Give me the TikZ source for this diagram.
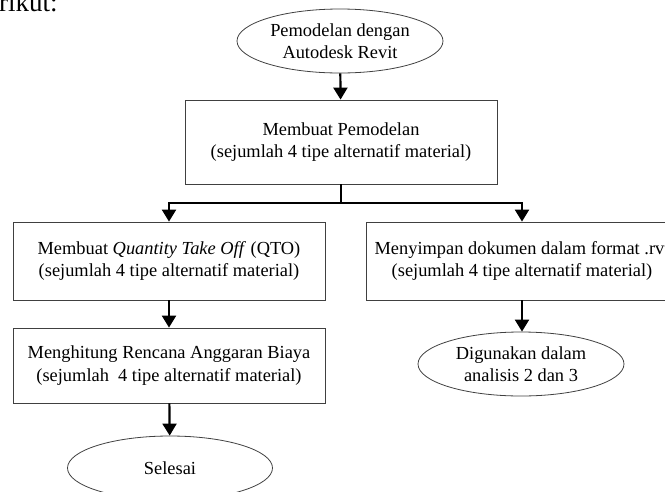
\documentclass[tikz,border=0pt]{standalone}
\usepackage{fontspec}
\setmainfont{Liberation Serif}
\usetikzlibrary{ shapes.geometric, % For the ellipse nodes
                 arrows.meta,
               }
\tikzstyle{flow} = [-{Triangle[width=14pt,length=12pt]}, line width=2.2pt]
\tikzstyle{terminal} = [ellipse, draw=black!75, line width=0.8pt, inner sep=0pt, minimum width=206pt, minimum height=64pt, align=center, font=\fontsize{18.4}{22.5}\selectfont]
\tikzstyle{process} = [rectangle, draw=black!75, line width=0.8pt, inner sep=0pt, minimum width=312pt, align=center, font=\fontsize{18.4}{22.5}\selectfont]

\begin{document}
\begin{tikzpicture}[x=1pt, y=-1pt]
  \useasboundingbox (0, 0) rectangle (665, 491);
  \clip (0, 0) rectangle (665, 491);
  \node (intro) [anchor=base west, inner sep=0pt, font=\fontsize{27}{30}\selectfont] at (-1, 11) {rikut:};

  \node (start) [terminal] at (340, 41) {Pemodelan dengan\\Autodesk Revit};
  \node (model) [process, minimum height=84pt] at (341, 142) {Membuat Pemodelan\\(sejumlah 4 tipe alternatif material)};
  \node (qto) [process, minimum height=78pt] at (169, 261) {Membuat \textit{Quantity Take Off} (QTO)\\(sejumlah 4 tipe alternatif material)};
  \node (save) [process, minimum height=78pt] at (522, 261) {Menyimpan dokumen dalam format .rvt\\(sejumlah 4 tipe alternatif material)};
  \node (rab) [process, minimum height=75pt] at (169, 365.5) {Menghitung Rencana Anggaran Biaya\\(sejumlah\ \ 4 tipe alternatif material)};
  \node (use) [terminal] at (521, 364) {Digunakan dalam\\analisis 2 dan 3};
  \node (done) [terminal, minimum width=205pt] at (170, 468) {Selesai};
  \coordinate (split) at (341, 203);

  \draw [flow] (start) -- (model);
  \draw [line width=2.2pt] (model.south) -- (split);
  \draw [flow] (split) -| (qto.north);
  \draw [flow] (split) -| (save.north);
  \draw [flow] (qto) -- (rab);
  \draw [flow] (save.south) -- (save.south |- use.north);
  \draw [flow] (rab) -- (done);
\end{tikzpicture}
\end{document}
